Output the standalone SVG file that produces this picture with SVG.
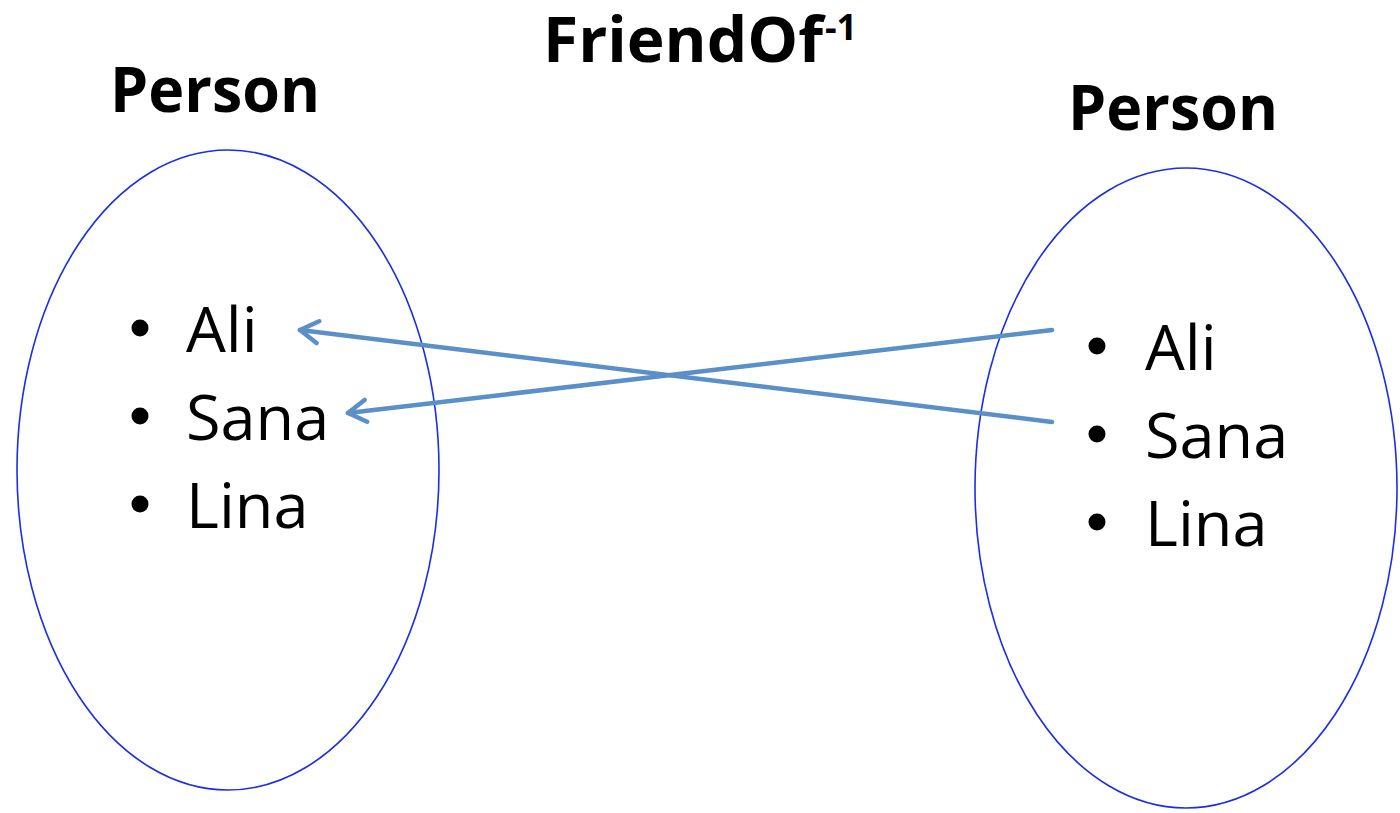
<svg xmlns="http://www.w3.org/2000/svg" width="1400" height="813" viewBox="0 0 1400 813">
<defs>
<style>
.set{fill:none;stroke:#1a2ee8;stroke-width:1.6}
.title{font-family:"Open Sans","Liberation Sans",sans-serif;font-weight:bold;font-size:62px;fill:#000}
.sup{font-size:36px}
.item{font-family:"Open Sans","Liberation Sans",sans-serif;font-size:63px;fill:#000}
.edge{stroke:#5b8fc7;stroke-width:4.5;fill:none;stroke-linecap:round}
</style>
<marker id="arr" viewBox="0 0 24 28" refX="21" refY="14" markerWidth="24" markerHeight="28" markerUnits="userSpaceOnUse" orient="auto">
<path d="M3,3 L21,14 L3,25" fill="none" stroke="#5b8fc7" stroke-width="4.5" stroke-linecap="round" stroke-linejoin="round"/>
</marker>
</defs>
<rect width="1400" height="813" fill="#fff"/>
<g id="title">
<text class="title" x="543" y="62"><tspan textLength="280" lengthAdjust="spacingAndGlyphs">FriendOf</tspan><tspan class="sup" dx="2" dy="-22">-1</tspan></text>
</g>
<g id="left-person">
<ellipse class="set" cx="228" cy="470" rx="211" ry="320"/>
<text class="title" x="110" y="112" textLength="210" lengthAdjust="spacingAndGlyphs">Person</text>
<circle cx="140" cy="328" r="8.5"/>
<circle cx="140" cy="416" r="8.5"/>
<circle cx="140" cy="504" r="8.5"/>
<text class="item" x="186" y="352">Ali</text>
<text class="item" x="186" y="440">Sana</text>
<text class="item" x="186" y="528">Lina</text>
</g>
<g id="right-person">
<ellipse class="set" cx="1186" cy="488" rx="211" ry="320"/>
<text class="title" x="1068" y="130" textLength="210" lengthAdjust="spacingAndGlyphs">Person</text>
<circle cx="1097" cy="346" r="8.5"/>
<circle cx="1097" cy="434" r="8.5"/>
<circle cx="1097" cy="522" r="8.5"/>
<text class="item" x="1145" y="370">Ali</text>
<text class="item" x="1145" y="458">Sana</text>
<text class="item" x="1145" y="546">Lina</text>
</g>
<g id="connectors">
<line class="edge" x1="1052" y1="422" x2="300" y2="330" marker-end="url(#arr)"/>
<line class="edge" x1="1052" y1="330" x2="348" y2="413" marker-end="url(#arr)"/>
</g>
</svg>
